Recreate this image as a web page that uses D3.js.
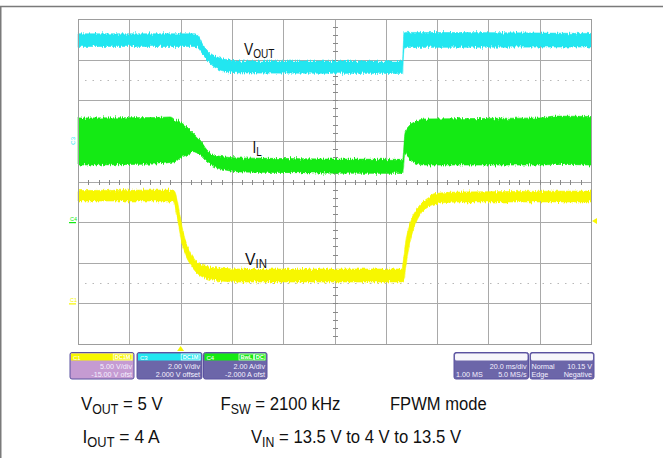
<!DOCTYPE html>
<html><head><meta charset="utf-8">
<script src="https://cdn.jsdelivr.net/npm/d3@7/dist/d3.min.js"></script>
<style>body{margin:0;background:#fff}svg{display:block;font-family:"Liberation Sans",Arial,sans-serif}</style>
</head><body><svg id="c" width="663" height="458"></svg>
<script>
// ---- time axis (ms) : 20 ms/div, 10 divisions
const xTicks = [0,20,40,60,80,100,120,140,160,180,200];
const yDivs = [-4,-3,-2,-1,0,1,2,3,4];
const cursorDivs = [2.5,-2.5];

// ---- channel settings [V or A per div, zero level in divisions]
const c1Setting = [5, -3];   // VIN  (yellow)
const c3Setting = [2, 1];    // VOUT (cyan)
const c4Setting = [2, -1];   // IL   (green)

// ---- VOUT envelope (V)
const voutT  = [0,45.6,46.8,48.3,50.3,52.6,55.4,59.3,65.1,126.5,127.1,127.9,200];
const voutHi = [5.27,5.27,5.17,4.82,4.47,4.23,4.08,3.98,3.93,3.93,5.31,5.34,5.29];
const voutLo = [4.65,4.65,4.57,4.33,3.98,3.69,3.49,3.39,3.34,3.32,4.47,4.60,4.62];

// ---- IL envelope (A)
const ilT  = [0,30.8,35.9,37.8,39.8,42.5,43.7,44.8,47.6,50.3,53.4,57.3,59.3,63.2,126.6,127.5,129.4,131.4,135.3,180,186,200];
const ilHi = [5.13,5.15,5.18,5.05,4.93,4.68,4.53,4.39,4.04,3.55,3.30,3.21,3.18,3.16,3.09,4.39,4.78,4.94,5.08,5.13,5.22,5.20];
const ilLo = [2.81,2.86,2.94,2.97,3.16,3.30,3.38,3.47,3.30,2.96,2.71,2.57,2.52,2.47,2.40,3.40,3.06,2.91,2.81,2.81,2.84,2.81];

// ---- VIN envelope (V)
const vinT  = [0,37.0,37.8,38.6,39.4,40.5,42.1,43.7,46.0,49.5,55.4,63.2,126.3,127.1,127.9,128.7,129.8,131.4,133.3,136.5,141.1,148.9,200];
const vinHi = [13.89,13.95,13.71,12.85,11.49,9.52,7.55,6.32,5.22,4.60,4.35,4.23,4.23,5.95,7.80,9.03,10.26,11.25,12.11,12.97,13.59,13.71,13.83];
const vinLo = [12.60,12.60,11.98,10.75,9.28,7.43,5.83,4.85,3.86,3.12,2.75,2.63,2.63,2.88,4.72,6.32,8.03,9.65,10.88,11.86,12.35,12.48,12.48];

// ---- trigger
const triggerTime = 40;      // ms
const triggerLevel = 10.15;  // V on C1

// ---- labels
const traceLabels = [["V","OUT"],["I","L"],["V","IN"]];
const chanNames = ["C1","C3","C4"];
const chanTags = [["DC1M"],["DC1M"],["BwL","DC"]];
const chanLine1 = ["5.00 V/div","2.00 V/div","2.00 A/div"];
const chanLine2 = ["-15.00 V ofst","2.000 V offset","-2.000 A ofst"];
const timebaseText = ["20.0 ms/div","1.00 MS","5.0 MS/s"];
const triggerText = ["Normal","10.15 V","Edge","Negative"];
const caption1 = [[["V",0],["OUT",1],[" = 5 V",0]], [["F",0],["SW",1],[" = 2100 kHz",0]], [["FPWM mode",0]]];
const caption2 = [[["I",0],["OUT",1],[" = 4 A",0]], [["V",0],["IN",1],[" = 13.5 V to 4 V to 13.5 V",0]]];

// ================= drawing =================
const svg = d3.select("#c");
const L=78, R=591, T=19, B=344;
const x = d3.scaleLinear([0,200],[L,R]);
const yDiv = d3.scaleLinear([-4,4],[B,T]);
const chan = s => d3.scaleLinear([(-4-s[1])*s[0],(4-s[1])*s[0]],[B,T]);
const y1 = chan(c1Setting), y3 = chan(c3Setting), y4 = chan(c4Setting);
const YEL="#f7f700", CYA="#22e6f0", GRN="#14ea14";

// outer frame
svg.append("path").attr("d","M0.75,458V6.5H663").attr("fill","none").attr("stroke","#7a7a7a").attr("stroke-width",1.5);

// filter for noisy trace edges
const defs = svg.append("defs");
const f = defs.append("filter").attr("id","rough").attr("filterUnits","userSpaceOnUse")
  .attr("x",0).attr("y",0).attr("width",663).attr("height",458).attr("color-interpolation-filters","sRGB");
f.append("feTurbulence").attr("type","fractalNoise").attr("baseFrequency","0.85 0.12").attr("numOctaves",2).attr("seed",7).attr("result","n");
f.append("feColorMatrix").attr("in","n").attr("type","matrix")
  .attr("values","0 0 0 0 0.5  0 1 0 0 0  0 0 0 0 0  0 0 0 0 1").attr("result","m");
f.append("feDisplacementMap").attr("in","SourceGraphic").attr("in2","m").attr("scale",6)
  .attr("xChannelSelector","R").attr("yChannelSelector","G");

// grid
const grid = svg.append("g").attr("stroke","#a9a9a9").attr("stroke-width",1).attr("shape-rendering","crispEdges");
grid.selectAll(".v").data(xTicks).join("line").attr("x1",d=>Math.round(x(d))+0.5).attr("x2",d=>Math.round(x(d))+0.5).attr("y1",T).attr("y2",B);
grid.selectAll(".h").data(yDivs).join("line").attr("x1",L).attr("x2",R).attr("y1",d=>Math.round(yDiv(d))+0.5).attr("y2",d=>Math.round(yDiv(d))+0.5);
// center ticks
const hTicks = d3.range(0,200.01,4), vTicks = d3.range(-4,4.01,0.2);
grid.selectAll(".ht").data(hTicks).join("line").attr("x1",d=>Math.round(x(d))+0.5).attr("x2",d=>Math.round(x(d))+0.5)
  .attr("y1",yDiv(0)-2).attr("y2",yDiv(0)+3).attr("stroke","#888");
grid.selectAll(".vt").data(vTicks).join("line").attr("y1",d=>Math.round(yDiv(d))+0.5).attr("y2",d=>Math.round(yDiv(d))+0.5)
  .attr("x1",x(100)-2).attr("x2",x(100)+3).attr("stroke","#888");
// dotted cursors
svg.selectAll(".cur").data(cursorDivs).join("line").attr("x1",L+7).attr("x2",R-2)
  .attr("y1",d=>Math.round(yDiv(d))+0.5).attr("y2",d=>Math.round(yDiv(d))+0.5)
  .attr("stroke","#b8b8b8").attr("stroke-width",1).attr("stroke-dasharray","1.5,6");

// traces
function band(T_, hi, lo, ys, color){
  const idx = d3.range(T_.length);
  const area = d3.area().x(i=>x(T_[i])).y0(i=>ys(lo[i])).y1(i=>ys(hi[i])).curve(d3.curveMonotoneX);
  svg.append("path").attr("d",area(idx)).attr("fill",color).attr("stroke",color).attr("stroke-width",0.6).attr("filter","url(#rough)");
}
band(vinT, vinHi, vinLo, y1, YEL);
band(ilT, ilHi, ilLo, y4, GRN);
band(voutT, voutHi, voutLo, y3, CYA);

// plot border on top
svg.append("rect").attr("x",L+0.5).attr("y",T+0.5).attr("width",R-L).attr("height",B-T)
  .attr("fill","none").attr("stroke","#9d9d9d").attr("shape-rendering","crispEdges");

// text helper with subscripts, fitted to a width
function rich(g, x0, y0, parts, size, subSize, targetW, fill, shift){
  const t = g.append("text").attr("font-size",size).attr("fill",fill);
  let down = false;
  parts.forEach(([s,sub])=>{
    const ts = t.append("tspan").text(s).attr("font-size", sub?subSize:size);
    if (sub && !down){ ts.attr("dy",shift); down=true; }
    else if (!sub && down){ ts.attr("dy",-shift); down=false; }
  });
  const w = t.node().getBBox().width;
  t.attr("transform",`translate(${x0},${y0}) scale(${targetW? targetW/w : 1},1)`);
  return t;
}

// trace labels
const lblPos = [[244,55,31],[252.5,153,9.5],[245,265,22]];
traceLabels.forEach((p,i)=>rich(svg, lblPos[i][0], lblPos[i][1], [[p[0],0],[p[1],1]], 16.5, 12, lblPos[i][2], "#111", 3));

// channel ground markers
svg.append("text").attr("transform",`translate(${L-3},${y3(0)}) rotate(-90)`).attr("text-anchor","middle")
  .attr("font-size",6).attr("fill",CYA).text("C3");
[[y4,GRN,"C4"],[y1,YEL,"C1"]].forEach(([ys,c,n])=>{
  svg.append("text").attr("x",L-8).attr("y",ys(0)-1.5).attr("font-size",5.5).attr("fill",c).text(n);
  svg.append("line").attr("x1",L-9).attr("x2",L-2).attr("y1",ys(0)+0.5).attr("y2",ys(0)+0.5).attr("stroke",c).attr("stroke-width",1.2);
});

// trigger markers
svg.append("path").attr("d",`M${x(triggerTime)},${B+2}l-3.5,5h7z`).attr("fill",YEL);
svg.append("path").attr("d",`M${R+1},${y1(triggerLevel)}l5,-3v6z`).attr("fill",YEL);

// channel info boxes
const boxX = [70,137,203.5], boxW = [64,65,63.5], heads=[YEL,CYA,GRN], bodies=["#c59bd2","#6c66a9","#6c66a9"];
const BY=352.5, BH=26.5;
chanNames.forEach((n,i)=>{
  const g = svg.append("g");
  g.append("rect").attr("x",boxX[i]).attr("y",BY).attr("width",boxW[i]).attr("height",BH).attr("rx",2)
    .attr("fill",bodies[i]).attr("stroke","#5b52a0").attr("stroke-width",1);
  g.append("rect").attr("x",boxX[i]+1).attr("y",BY+1).attr("width",boxW[i]-2).attr("height",7).attr("fill",heads[i]);
  g.append("text").attr("x",boxX[i]+3).attr("y",BY+7).attr("font-size",6).attr("fill","#fff").text(n);
  let rx = boxX[i]+boxW[i]-2;
  chanTags[i].slice().reverse().forEach(tag=>{
    const tw = tag.length*4.2+2;
    rx -= tw;
    g.append("rect").attr("x",rx).attr("y",BY+1.5).attr("width",tw).attr("height",6).attr("fill","none").attr("stroke","#fff").attr("stroke-width",0.7);
    g.append("text").attr("x",rx+tw/2).attr("y",BY+6.8).attr("text-anchor","middle").attr("font-size",5.6).attr("font-weight","bold").attr("fill","#fff").text(tag);
    rx -= 1;
  });
  g.append("text").attr("x",boxX[i]+boxW[i]-2).attr("y",BY+16).attr("text-anchor","end").attr("font-size",7.2).attr("fill","#f4f0ff").text(chanLine1[i]);
  g.append("text").attr("x",boxX[i]+boxW[i]-2).attr("y",BY+24).attr("text-anchor","end").attr("font-size",7.2).attr("fill","#f4f0ff").text(chanLine2[i]);
});
// timebase / trigger boxes
[[454,74.5],[530,64]].forEach(([bx,bw],k)=>{
  const g = svg.append("g");
  g.append("rect").attr("x",bx).attr("y",BY).attr("width",bw).attr("height",BH).attr("rx",2)
    .attr("fill","#6c66a9").attr("stroke","#5b52a0");
  g.append("rect").attr("x",bx+1).attr("y",BY+1).attr("width",bw-2).attr("height",7).attr("rx",1.5).attr("fill","#f7f6fb");
  const tx = (s,xx,yy,anc)=>g.append("text").attr("x",xx).attr("y",yy).attr("text-anchor",anc).attr("font-size",7.2).attr("fill","#f4f0ff").text(s);
  if(k===0){ tx(timebaseText[0],bx+bw-2,BY+16,"end"); tx(timebaseText[1],bx+2,BY+24,"start"); tx(timebaseText[2],bx+bw-2,BY+24,"end"); }
  else { tx(triggerText[0],bx+1.5,BY+16,"start"); tx(triggerText[1],bx+bw-2,BY+16,"end"); tx(triggerText[2],bx+1.5,BY+24,"start"); tx(triggerText[3],bx+bw-2,BY+24,"end"); }
});

// captions
const cap1Pos = [[81,410,82],[220.5,410,120],[390,410,96.7]];
const cap2Pos = [[82.5,443,77.5],[251,443,210.5]];
caption1.forEach((p,i)=>rich(svg,cap1Pos[i][0],cap1Pos[i][1],p,19,14,cap1Pos[i][2],"#111",4));
caption2.forEach((p,i)=>rich(svg,cap2Pos[i][0],cap2Pos[i][1],p,19,14,cap2Pos[i][2],"#111",4));
</script></body></html>
